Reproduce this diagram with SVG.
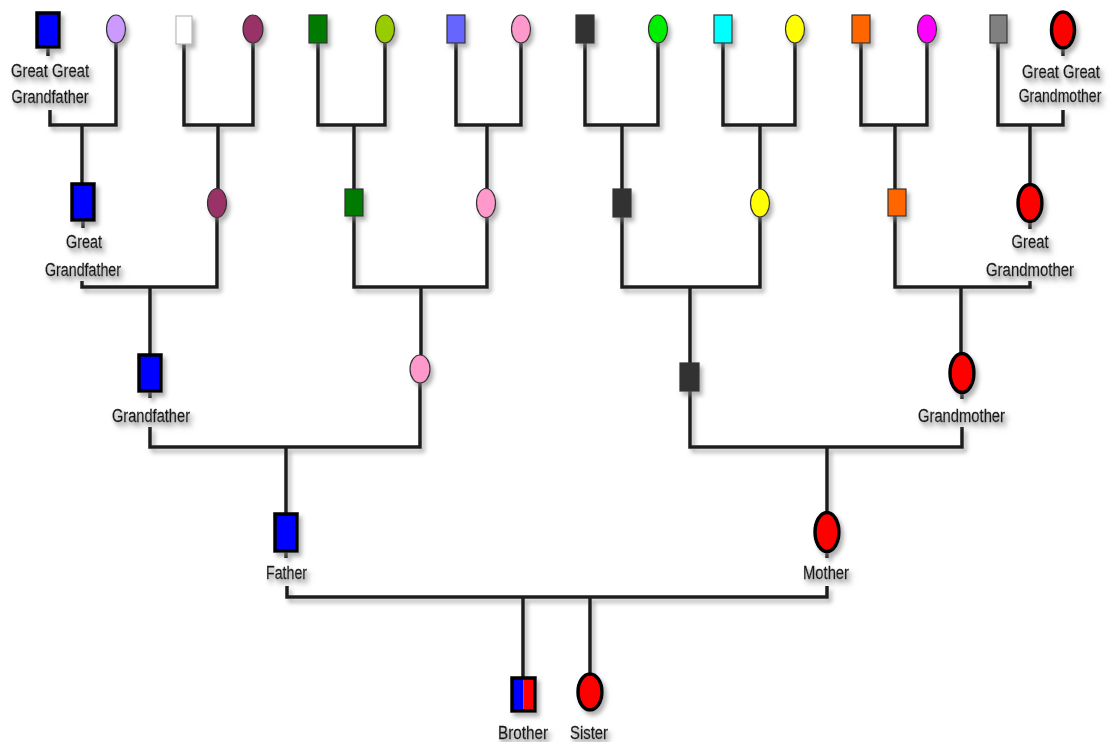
<svg xmlns="http://www.w3.org/2000/svg" width="1112" height="742" viewBox="0 0 1112 742">
<defs>
<filter id="sh" x="-50%" y="-50%" width="200%" height="200%">
<feGaussianBlur in="SourceAlpha" stdDeviation="2"/>
<feOffset dx="3" dy="4" result="b"/>
<feFlood flood-color="#808080" flood-opacity="0.6"/>
<feComposite in2="b" operator="in"/>
<feMerge><feMergeNode/><feMergeNode in="SourceGraphic"/></feMerge>
</filter>
<filter id="tsh" x="-20%" y="-50%" width="140%" height="200%">
<feGaussianBlur in="SourceAlpha" stdDeviation="1.5"/>
<feOffset dx="1" dy="2" result="b"/>
<feFlood flood-color="#999" flood-opacity="0.6"/>
<feComposite in2="b" operator="in"/>
<feMerge><feMergeNode/><feMergeNode in="SourceGraphic"/></feMerge>
</filter>
</defs>
<style>
.c path{fill:none;stroke:#1e1e1e;stroke-width:3.5;stroke-linejoin:miter}
.thick{stroke:#000;stroke-width:3.5}
.thin{stroke:#333;stroke-width:1.2}
.n{filter:url(#sh)}
text{font-family:"Liberation Sans Narrow","Liberation Sans",Arial,sans-serif;font-size:18px;fill:#151515;stroke:#151515;stroke-width:0.3;text-anchor:middle;filter:url(#tsh)}
</style>
<rect width="1112" height="742" fill="#fff"/>

<g id="connectors" class="c" filter="url(#sh)">
<path d="M50 110 V125 H116 V42 M82 125 V184"/>
<path d="M184 44 V125 H253 V43 M218 125 V189"/>
<path d="M318 43 V125 H385 V43 M354 125 V190"/>
<path d="M456 43 V125 H521 V43 M487 125 V189"/>
<path d="M585 43 V125 H658 V43 M622 125 V190"/>
<path d="M723 43 V125 H795 V43 M760 125 V189"/>
<path d="M861 43 V125 H927 V43 M895 125 V189"/>
<path d="M998 43 V125 H1063 V110 M1030 125 V185"/>
<path d="M48 47 V56 M1063 48 V56"/>
<path d="M82 281 V287 H217 V217 M150 287 V355"/>
<path d="M354 216 V287 H487 V217 M421 287 V356"/>
<path d="M622 217 V287 H760 V217 M690 287 V363"/>
<path d="M895 216 V287 H1030 V281 M961 287 V354"/>
<path d="M83 220 V228 M1030 221 V229"/>
<path d="M150 427 V447 H420 V383 M286 447 V514"/>
<path d="M690 391 V447 H962 V427 M827 447 V513"/>
<path d="M150 391 V398 M962 392 V399"/>
<path d="M287 586 V597 H827 V586 M523 597 V678 M590 597 V674"/>
<path d="M286 551 V558 M827 551 V558"/>
</g>

<g id="ggf1" class="n"><rect x="37" y="13" width="22" height="34" fill="#0000ff" class="thick"/><text x="50" y="77" textLength="78" lengthAdjust="spacingAndGlyphs">Great Great</text><text x="50" y="103" textLength="77" lengthAdjust="spacingAndGlyphs">Grandfather</text></g>
<g id="ggm1" class="n"><ellipse cx="116" cy="29" rx="9.5" ry="14" fill="#cc99ff" class="thin"/></g>
<g id="ggf2" class="n"><rect x="176" y="16" width="16" height="28" fill="#ffffff" stroke="#bbb" stroke-width="1.2"/></g>
<g id="ggm2" class="n"><ellipse cx="253" cy="29" rx="10" ry="14" fill="#993366" class="thin"/></g>
<g id="ggf3" class="n"><rect x="309" y="15" width="18" height="28" fill="#007a00" class="thin"/></g>
<g id="ggm3" class="n"><ellipse cx="385" cy="29" rx="9.5" ry="14" fill="#99cc00" class="thin"/></g>
<g id="ggf4" class="n"><rect x="447" y="15" width="18" height="28" fill="#6666ff" class="thin"/></g>
<g id="ggm4" class="n"><ellipse cx="521" cy="29" rx="9.5" ry="14" fill="#ff99cc" class="thin"/></g>
<g id="ggf5" class="n"><rect x="576" y="15" width="18" height="28" fill="#333333" class="thin"/></g>
<g id="ggm5" class="n"><ellipse cx="658" cy="29" rx="9.5" ry="14" fill="#00ee00" class="thin"/></g>
<g id="ggf6" class="n"><rect x="714" y="15" width="18" height="28" fill="#00ffff" class="thin"/></g>
<g id="ggm6" class="n"><ellipse cx="795" cy="29" rx="9.5" ry="14" fill="#ffff00" class="thin"/></g>
<g id="ggf7" class="n"><rect x="852" y="15" width="18" height="28" fill="#ff6600" class="thin"/></g>
<g id="ggm7" class="n"><ellipse cx="927" cy="29" rx="9.5" ry="14" fill="#ff00ff" class="thin"/></g>
<g id="ggf8" class="n"><rect x="990" y="15" width="17" height="28" fill="#808080" class="thin"/></g>
<g id="ggm8" class="n"><ellipse cx="1063" cy="30" rx="11.5" ry="18" fill="#ff0000" class="thick"/><text transform="translate(1061 78) scale(0.82 1)">Great Great</text><text transform="translate(1060 102) scale(0.78 1)">Grandmother</text></g>

<g id="gf1" class="n"><rect x="72" y="184" width="22" height="36" fill="#0000ff" class="thick"/><text x="84" y="248" textLength="36" lengthAdjust="spacingAndGlyphs">Great</text><text x="83" y="276" textLength="76" lengthAdjust="spacingAndGlyphs">Grandfather</text></g>
<g id="gm1" class="n"><ellipse cx="217" cy="203" rx="9.5" ry="14.5" fill="#993366" class="thin"/></g>
<g id="gf2" class="n"><rect x="345" y="189" width="18" height="27" fill="#007a00" class="thin"/></g>
<g id="gm2" class="n"><ellipse cx="486" cy="203" rx="9.5" ry="14.5" fill="#ff99cc" class="thin"/></g>
<g id="gf3" class="n"><rect x="613" y="189" width="18" height="28" fill="#333333" class="thin"/></g>
<g id="gm3" class="n"><ellipse cx="760" cy="203" rx="9.5" ry="14" fill="#ffff00" class="thin"/></g>
<g id="gf4" class="n"><rect x="888" y="189" width="18" height="27" fill="#ff6600" class="thin"/></g>
<g id="gm4" class="n"><ellipse cx="1030" cy="203" rx="12" ry="18.5" fill="#ff0000" class="thick"/><text x="1030" y="248" textLength="37" lengthAdjust="spacingAndGlyphs">Great</text><text x="1030" y="276" textLength="88" lengthAdjust="spacingAndGlyphs">Grandmother</text></g>

<g id="grandfather" class="n"><rect x="139" y="355" width="22" height="36" fill="#0000ff" class="thick"/><text x="151" y="422" textLength="78" lengthAdjust="spacingAndGlyphs">Grandfather</text></g>
<g id="grandmother1" class="n"><ellipse cx="420" cy="369" rx="10" ry="14" fill="#ff99cc" class="thin"/></g>
<g id="grandfather2" class="n"><rect x="680" y="363" width="19" height="28" fill="#333333" class="thin"/></g>
<g id="grandmother" class="n"><ellipse cx="962" cy="373" rx="12" ry="19.5" fill="#ff0000" class="thick"/><text x="961.5" y="422" textLength="87" lengthAdjust="spacingAndGlyphs">Grandmother</text></g>

<g id="father" class="n"><rect x="275" y="514" width="22" height="37" fill="#0000ff" class="thick"/><text x="286.5" y="579" textLength="41" lengthAdjust="spacingAndGlyphs">Father</text></g>
<g id="mother" class="n"><ellipse cx="827" cy="532" rx="12" ry="19.5" fill="#ff0000" class="thick"/><text x="826" y="579" textLength="46" lengthAdjust="spacingAndGlyphs">Mother</text></g>

<g id="brother" class="n"><rect x="512" y="678" width="11.5" height="33" fill="#0000ff"/><rect x="523.5" y="678" width="11.5" height="33" fill="#ff0000"/><rect x="512" y="678" width="23" height="33" fill="none" class="thick"/><text x="523" y="739" textLength="50" lengthAdjust="spacingAndGlyphs">Brother</text></g>
<g id="sister" class="n"><ellipse cx="590" cy="692" rx="12" ry="18" fill="#ff0000" class="thick"/><text x="589" y="739" textLength="38" lengthAdjust="spacingAndGlyphs">Sister</text></g>
</svg>
